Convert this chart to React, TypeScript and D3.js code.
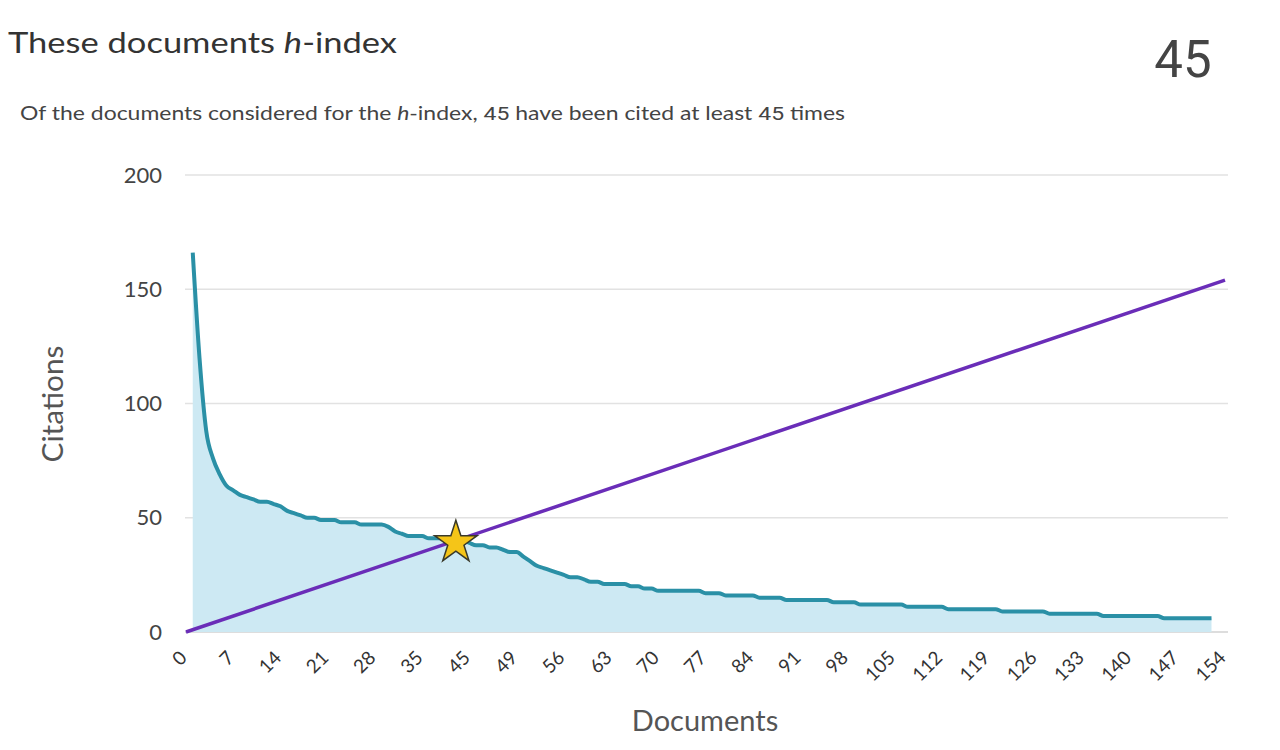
import React from "react";
import * as d3 from "d3";

// ---- data ----
const citations: number[] = [
  166, 120, 88, 76, 69, 64, 62, 60, 59, 58,
  57, 57, 56, 55, 53, 52, 51, 50, 50, 49,
  49, 49, 48, 48, 48, 47, 47, 47, 47, 46,
  44, 43, 42, 42, 42, 41, 41, 41, 40, 40,
  40, 39, 38, 38, 37, 37, 36, 35, 35, 33,
  31, 29, 28, 27, 26, 25, 24, 24, 23, 22,
  22, 21, 21, 21, 21, 20, 20, 19, 19, 18,
  18, 18, 18, 18, 18, 18, 17, 17, 17, 16,
  16, 16, 16, 16, 15, 15, 15, 15, 14, 14,
  14, 14, 14, 14, 14, 13, 13, 13, 13, 12,
  12, 12, 12, 12, 12, 12, 11, 11, 11, 11,
  11, 11, 10, 10, 10, 10, 10, 10, 10, 10,
  9, 9, 9, 9, 9, 9, 9, 8, 8, 8,
  8, 8, 8, 8, 8, 7, 7, 7, 7, 7,
  7, 7, 7, 7, 6, 6, 6, 6, 6, 6,
  6, 6,
];
const documents: number[] = citations.map((_, i) => i + 1);
const diagonal: number[] = [0, 154];
const xTickValues: number[] = [0, 7, 14, 21, 28, 35, 42, 49, 56, 63, 70, 77, 84, 91, 98, 105, 112, 119, 126, 133, 140, 147, 154];
const xTickLabels: string[] = ["0", "7", "14", "21", "28", "35", "45", "49", "56", "63", "70", "77", "84", "91", "98", "105", "112", "119", "126", "133", "140", "147", "154"];
const yTickValues: number[] = [0, 50, 100, 150, 200];
const starPoint: number[] = [40, 40];
const hIndex = 45;

const FONT = "Lato, 'Open Sans', sans-serif";

export default function App() {
  const x = d3.scaleLinear().domain([0, 154]).range([186, 1225]);
  const y = d3.scaleLinear().domain([0, 200]).range([632, 175]);

  const pts = documents.map((d, i) => [d, citations[i]] as [number, number]);
  const line = d3
    .line<[number, number]>()
    .x((d) => x(d[0]))
    .y((d) => y(d[1]))
    .curve(d3.curveMonotoneX);
  const area = d3
    .area<[number, number]>()
    .x((d) => x(d[0]))
    .y0(y(0))
    .y1((d) => y(d[1]))
    .curve(d3.curveMonotoneX);
  const star = d3.symbol().type(d3.symbolStar).size(560)();

  return (
    <svg
      width={1280}
      height={750}
      style={{ position: "absolute", left: 0, top: 0, background: "#fff" }}
    >
      {/* titles */}
      <text x={8} y={53} fontFamily={FONT} fontSize={29} fill="#333" textLength={389} lengthAdjust="spacingAndGlyphs">
        These documents <tspan fontStyle="italic">h</tspan>-index
      </text>
      <text x={1183} y={77} fontFamily="Roboto, sans-serif" fontSize={51} fill="#444" textAnchor="middle">
        {hIndex}
      </text>
      <text x={20} y={120} fontFamily={FONT} fontSize={19} fill="#444" textLength={825} lengthAdjust="spacingAndGlyphs">
        Of the documents considered for the <tspan fontStyle="italic">h</tspan>-index,{" "}
        <tspan fontFamily="Roboto, sans-serif">{hIndex}</tspan> have been cited at least{" "}
        <tspan fontFamily="Roboto, sans-serif">{hIndex}</tspan> times
      </text>

      {/* grid */}
      {yTickValues.map((v) => (
        <g key={v}>
          <line x1={185} x2={1228} y1={y(v)} y2={y(v)} stroke={v === 0 ? "#d2d2d2" : "#e2e2e2"} strokeWidth={1.5} />
          <text x={162} y={y(v)} dy="0.35em" textAnchor="end" fontFamily={FONT} fontSize={22} fill="#444">
            {v}
          </text>
        </g>
      ))}

      {/* area + line */}
      <path d={area(pts) || ""} fill="#cde9f3" />
      <path d={line(pts) || ""} fill="none" stroke="#2a90a6" strokeWidth={4} strokeLinejoin="round" />

      {/* diagonal */}
      <line
        x1={x(diagonal[0])}
        y1={y(diagonal[0])}
        x2={x(diagonal[1])}
        y2={y(diagonal[1])}
        stroke="#6a2db8"
        strokeWidth={3.5}
      />

      {/* star */}
      <path
        d={star || ""}
        transform={`translate(${x(starPoint[0])},${y(starPoint[1]) + 2})`}
        fill="#f5c518"
        stroke="#3a3a2a"
        strokeWidth={1.5}
      />

      {/* x tick labels */}
      {xTickValues.map((v, i) => (
        <text
          key={v}
          transform={`translate(${x(v) + 2},${659}) rotate(-45)`}
          textAnchor="end"
          fontFamily={FONT}
          fontSize={19}
          fill="#333"
        >
          {xTickLabels[i]}
        </text>
      ))}

      {/* axis titles */}
      <text x={705} y={731} textAnchor="middle" fontFamily={FONT} fontSize={29} fill="#555">
        Documents
      </text>
      <text
        transform={`translate(63,404) rotate(-90)`}
        textAnchor="middle"
        fontFamily={FONT}
        fontSize={28}
        fill="#555"
        textLength={117}
        lengthAdjust="spacingAndGlyphs"
      >
        Citations
      </text>
    </svg>
  );
}
